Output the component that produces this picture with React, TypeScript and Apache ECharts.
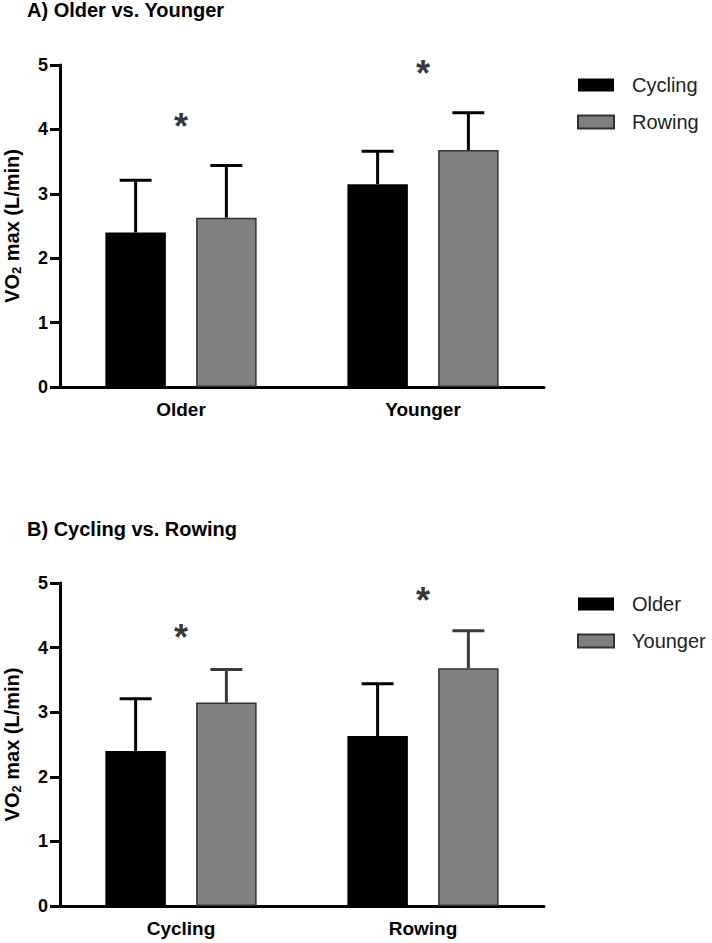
import React, { useEffect, useRef } from "react";
import * as echarts from "echarts";

// Panel A: Older vs. Younger
const groupsA = ["Older", "Younger"];
const cyclingA = [2.4, 3.15];
const rowingA = [2.63, 3.68];
const cyclingSdA = [0.81, 0.51];
const rowingSdA = [0.81, 0.58];
const starA = [4.12, 4.95];

// Panel B: Cycling vs. Rowing
const groupsB = ["Cycling", "Rowing"];
const olderB = [2.4, 2.63];
const youngerB = [3.15, 3.68];
const olderSdB = [0.81, 0.81];
const youngerSdB = [0.51, 0.58];
const starB = [4.23, 4.81];

const yTicks = [0, 1, 2, 3, 4, 5];

const FONT = "Liberation Sans, Arial, Helvetica, sans-serif";

function errSeries(name: string, gi: number, vals: number[], sds: number[], frac: number, color: string) {
  return {
    type: "custom",
    name,
    xAxisIndex: gi,
    yAxisIndex: gi,
    z: 1,
    data: vals.map((v, i) => [i, v, sds[i]]),
    encode: { x: 0, y: 1 },
    renderItem: (params: any, api: any) => {
      const c = api.value(0);
      const v = api.value(1);
      const sd = api.value(2);
      const base = api.coord([c, v]);
      const top = api.coord([c, v + sd]);
      const band = api.size([1, 0])[0];
      const x = base[0] + frac * band;
      const half = band * 0.066;
      return {
        type: "group",
        children: [
          { type: "line", shape: { x1: x, y1: base[1], x2: x, y2: top[1] }, style: { stroke: color, lineWidth: 3 } },
          { type: "line", shape: { x1: x - half, y1: top[1], x2: x + half, y2: top[1] }, style: { stroke: color, lineWidth: 3 } },
        ],
      };
    },
  };
}

function barSeries(name: string, gi: number, vals: number[], gray: boolean) {
  return {
    type: "bar",
    name,
    xAxisIndex: gi,
    yAxisIndex: gi,
    z: 2,
    barWidth: "25%",
    barGap: "50%",
    data: vals,
    itemStyle: gray
      ? { color: "#808080", borderColor: "#333333", borderWidth: 1.5 }
      : { color: "#000000" },
  };
}

function starSeries(name: string, gi: number, vals: number[]) {
  return {
    type: "scatter",
    name,
    xAxisIndex: gi,
    yAxisIndex: gi,
    z: 5,
    symbolSize: 0,
    data: vals.map((v, i) => [i, v]),
    label: {
      show: true,
      position: "inside",
      formatter: "*",
      fontSize: 36,
      fontWeight: "bold",
      fontFamily: FONT,
      color: "#000",
      offset: [0, 5],
    },
  };
}

function xAxis(gi: number, cats: string[]) {
  return {
    type: "category",
    gridIndex: gi,
    data: cats,
    axisLine: { lineStyle: { color: "#000", width: 3 } },
    axisTick: { alignWithLabel: true, length: 10, lineStyle: { color: "#000", width: 3 } },
    axisLabel: { fontSize: 19, fontWeight: "bold", color: "#000", fontFamily: FONT, margin: 13 },
  };
}

function yAxis(gi: number) {
  return {
    type: "value",
    gridIndex: gi,
    min: yTicks[0],
    max: yTicks[yTicks.length - 1],
    interval: 1,
    splitLine: { show: false },
    axisLine: { show: true, lineStyle: { color: "#000", width: 3 } },
    axisTick: { show: true, length: 10, lineStyle: { color: "#000", width: 3 } },
    axisLabel: { fontSize: 18, fontWeight: "bold", color: "#000", fontFamily: FONT, margin: 12 },
    name: "{b|VO}{s|2}{b| max (L/min)}",
    nameLocation: "middle",
    nameRotate: 90,
    nameGap: 37,
    nameTextStyle: {
      color: "#000",
      fontFamily: FONT,
      fontWeight: "bold",
      fontSize: 20,
      rich: {
        b: { fontSize: 20, fontWeight: "bold", fontFamily: FONT, color: "#000", lineHeight: 22 },
        s: { fontSize: 13, fontWeight: "bold", fontFamily: FONT, color: "#000", verticalAlign: "bottom" },
      },
    },
  };
}

function legend(top: number, items: string[]) {
  return {
    orient: "vertical",
    left: 577,
    top,
    itemWidth: 36,
    itemHeight: 13,
    itemGap: 17,
    icon: "rect",
    padding: 0,
    data: items,
    textStyle: { fontSize: 20, color: "#222", fontFamily: FONT, padding: [0, 0, 0, 13] },
  };
}

export default function App() {
  const ref = useRef<HTMLDivElement>(null);
  useEffect(() => {
    if (!ref.current) return;
    const chart = echarts.init(ref.current, null, { renderer: "svg" });
    chart.setOption({
      animation: false,
      backgroundColor: "#fff",
      title: [
        { text: "A) Older vs. Younger", left: 27, top: 0, padding: 0, textStyle: { fontSize: 20, fontWeight: "bold", color: "#000", fontFamily: FONT } },
        { text: "B) Cycling vs. Rowing", left: 27, top: 519, padding: 0, textStyle: { fontSize: 20, fontWeight: "bold", color: "#000", fontFamily: FONT } },
      ],
      legend: [legend(75, ["Cycling", "Rowing"]), legend(594, ["Older", "Younger"])],
      grid: [
        { left: 60, top: 65, width: 484, height: 322, containLabel: false, outerBoundsMode: "none" },
        { left: 60, top: 583, width: 484, height: 323, containLabel: false, outerBoundsMode: "none" },
      ],
      xAxis: [xAxis(0, groupsA), xAxis(1, groupsB)],
      yAxis: [yAxis(0), yAxis(1)],
      series: [
        errSeries("errCycA", 0, cyclingA, cyclingSdA, -0.1875, "#000"),
        errSeries("errRowA", 0, rowingA, rowingSdA, 0.1875, "#000"),
        barSeries("Cycling", 0, cyclingA, false),
        barSeries("Rowing", 0, rowingA, true),
        starSeries("starA", 0, starA),
        errSeries("errOldB", 1, olderB, olderSdB, -0.1875, "#000"),
        errSeries("errYoungB", 1, youngerB, youngerSdB, 0.1875, "#3a3a3a"),
        barSeries("Older", 1, olderB, false),
        barSeries("Younger", 1, youngerB, true),
        starSeries("starB", 1, starB),
      ],
    });
    return () => chart.dispose();
  }, []);
  return <div ref={ref} style={{ position: "fixed", left: 0, top: 0, width: 712, height: 943 }} />;
}
